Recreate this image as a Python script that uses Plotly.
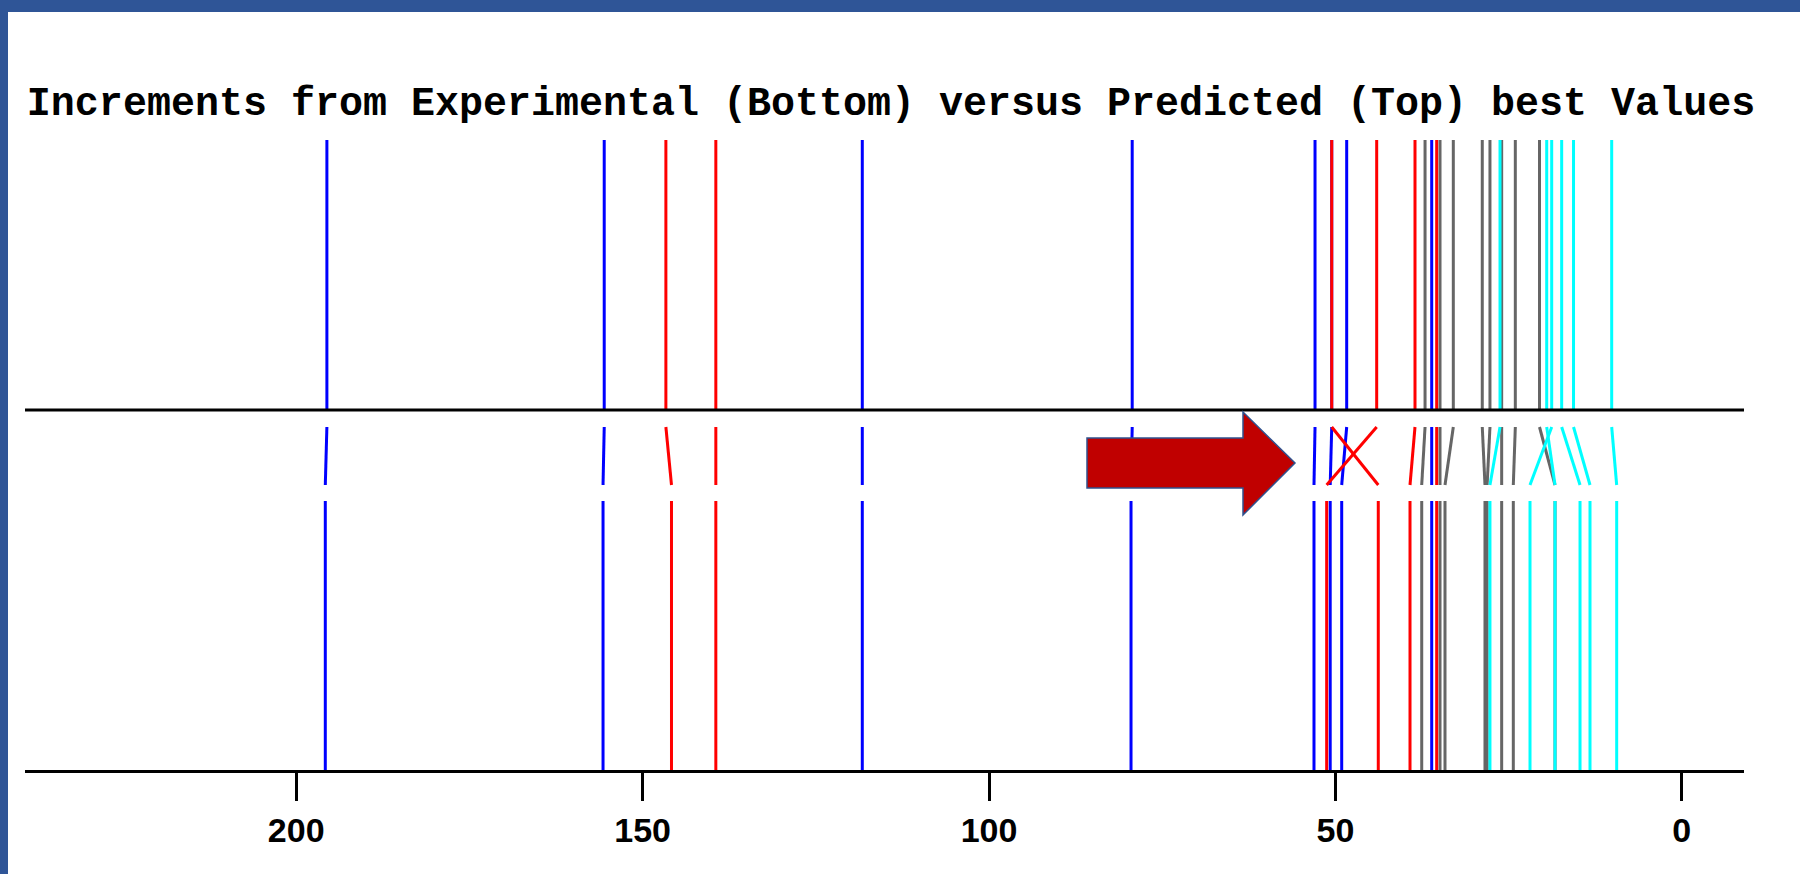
import plotly.graph_objects as go

# ---- data: predicted (top) and experimental (bottom) increments, grouped by colour ----
blue_pred = [195.57, 155.54, 118.29, 79.33, 52.94, 50.53, 48.37, 36.10]
blue_exp = [195.80, 155.71, 118.29, 79.50, 53.09, 50.75, 49.09, 36.10]

red_pred = [146.64, 139.43, 50.53, 44.04, 38.51, 35.38]
red_exp = [145.83, 139.43, 43.81, 51.26, 39.23, 35.38]

gray_pred = [37.06, 34.90, 32.98, 28.80, 27.69, 26.00, 24.03, 20.54]
gray_exp = [37.54, 34.90, 34.18, 28.41, 28.10, 26.00, 24.32, 18.30]

cyan_pred = [26.24, 19.50, 18.78, 17.34, 15.63, 10.12]
cyan_exp = [27.69, 18.30, 21.91, 14.69, 13.25, 9.40]

tick_vals = [0, 50, 100, 150, 200]
tick_text = ["0", "50", "100", "150", "200"]

title_text = "Increments from Experimental (Bottom) versus Predicted (Top) best Values"

# ---- geometry / style ----
W, H = 1800, 874
PLOT_L, PLOT_R, PLOT_B = 25, 1744, 770
ZERO_PX, PX_PER_UNIT = 1681.8, 6.928


def val_at(px):
    return (ZERO_PX - px) / PX_PER_UNIT


TOP_Y0, TOP_Y1 = 140, 410
CON_Y0, CON_Y1 = 427, 485
BOT_Y0, BOT_Y1 = 501, PLOT_B

groups = [
    (blue_pred, blue_exp, "#0000FF"),
    (red_pred, red_exp, "#FF0000"),
    (gray_pred, gray_exp, "#666666"),
    (cyan_pred, cyan_exp, "#00FFFF"),
]

fig = go.Figure()
for pred, exp, col in groups:
    xs, ys = [], []
    for p, e in zip(pred, exp):
        xs += [p, p, None, p, e, None, e, e, None]
        ys += [TOP_Y0, TOP_Y1, None, CON_Y0, CON_Y1, None, BOT_Y0, BOT_Y1, None]
    fig.add_trace(go.Scatter(x=xs, y=ys, mode="lines",
                             line=dict(color=col, width=3),
                             hoverinfo="skip", showlegend=False))

# middle separator line
fig.add_shape(type="line", xref="paper", yref="y", x0=0, x1=1, y0=TOP_Y1, y1=TOP_Y1,
              line=dict(color="black", width=3), layer="above")

# block arrow
arrow_pts = [(1087, 438), (1243, 438), (1243, 412), (1295, 463),
             (1243, 515), (1243, 488), (1087, 488)]
path = "M " + " L ".join(f"{val_at(px):.4f},{py}" for px, py in arrow_pts) + " Z"
fig.add_shape(type="path", xref="x", yref="y", path=path,
              fillcolor="#C00000", line=dict(color="#2F528F", width=1.5), layer="above")

# blue frame (top and left bands)
pw = PLOT_R - PLOT_L
def paper_x(px):
    return (px - PLOT_L) / pw
def paper_y(py):
    return 1 - py / PLOT_B

fig.add_shape(type="rect", xref="paper", yref="paper",
              x0=paper_x(0), x1=paper_x(W), y0=paper_y(12), y1=paper_y(0),
              fillcolor="#2F5597", line=dict(width=0), layer="above")
fig.add_shape(type="rect", xref="paper", yref="paper",
              x0=paper_x(0), x1=paper_x(8), y0=paper_y(H), y1=paper_y(0),
              fillcolor="#2F5597", line=dict(width=0), layer="above")

fig.update_layout(
    width=W, height=H, autosize=False,
    margin=dict(l=PLOT_L, r=W - PLOT_R, t=0, b=H - PLOT_B, pad=0),
    paper_bgcolor="white", plot_bgcolor="white",
    title=dict(text=title_text, x=891 / W, xanchor="center", y=1 - 101 / H, yanchor="middle",
               font=dict(family="Liberation Mono, Courier New, monospace", size=40,
                         color="black", weight="bold")),
    xaxis=dict(range=[val_at(PLOT_L), val_at(PLOT_R)], showgrid=False, zeroline=False,
               showline=True, linecolor="black", linewidth=3,
               ticks="outside", ticklen=28, tickwidth=2.5, tickcolor="black",
               tickvals=tick_vals, ticktext=tick_text,
               tickfont=dict(family="Liberation Sans, Arial, sans-serif", size=34,
                             color="black", weight="bold")),
    yaxis=dict(range=[PLOT_B, 0], visible=False, showgrid=False, zeroline=False),
)

fig.write_html("out.html", config={"displayModeBar": False},
               post_script="document.body.style.margin='0';document.body.style.overflow='hidden';")
